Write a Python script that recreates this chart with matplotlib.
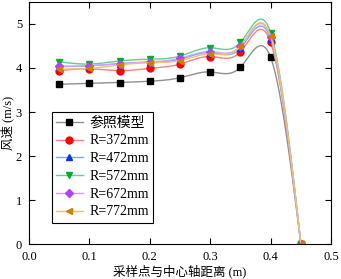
import numpy as np
import matplotlib.pyplot as plt

plt.rcParams['font.family'] = ['Liberation Serif', 'Noto Sans CJK SC']
plt.rcParams['mathtext.fontset'] = 'stix'

# 数据
x = [0.05, 0.1, 0.15, 0.2, 0.25, 0.3, 0.35, 0.4, 0.45]
labels = ['参照模型', 'R=372mm', 'R=472mm', 'R=572mm', 'R=672mm', 'R=772mm']
ref = [3.63, 3.65, 3.67, 3.70, 3.78, 3.91, 4.02, 4.24, 0.0]
r372 = [3.94, 3.98, 3.94, 3.99, 4.09, 4.26, 4.37, 4.58, 0.0]
r472 = [4.03, 4.05, 4.10, 4.13, 4.20, 4.35, 4.45, 4.65, 0.0]
r572 = [4.14, 4.09, 4.16, 4.20, 4.27, 4.46, 4.58, 4.80, 0.0]
r672 = [4.04, 4.05, 4.10, 4.14, 4.22, 4.37, 4.50, 4.70, 0.0]
r772 = [3.98, 3.99, 4.07, 4.12, 4.17, 4.32, 4.50, 4.72, 0.0]
series = [ref, r372, r472, r572, r672, r772]

marker_colors = ['#000000', '#ff0000', '#0033ff', '#00aa33', '#aa44ff', '#cc8000']
line_colors = ['#909090', '#ff8080', '#80a8ff', '#60d090', '#d0a0ff', '#f0c070']
markers = ['s', 'o', '^', 'v', 'D', '<']
msizes = [4.5, 5, 5, 5, 4.2, 5]


# 自然三次样条 (只用于画平滑连线)
def spline(xs, ys, n=400):
    xs = np.asarray(xs, float)
    ys = np.asarray(ys, float)
    m = len(xs)
    h = np.diff(xs)
    A = np.zeros((m, m))
    b = np.zeros(m)
    A[0, 0] = A[-1, -1] = 1
    for i in range(1, m - 1):
        A[i, i - 1] = h[i - 1]
        A[i, i] = 2 * (h[i - 1] + h[i])
        A[i, i + 1] = h[i]
        b[i] = 6 * ((ys[i + 1] - ys[i]) / h[i] - (ys[i] - ys[i - 1]) / h[i - 1])
    M = np.linalg.solve(A, b)
    xx = np.linspace(xs[0], xs[-1], n)
    k = np.clip(np.searchsorted(xs, xx) - 1, 0, m - 2)
    t1 = xs[k + 1] - xx
    t0 = xx - xs[k]
    hk = h[k]
    yy = (M[k] * t1**3 + M[k + 1] * t0**3) / (6 * hk) \
        + (ys[k] / hk - M[k] * hk / 6) * t1 \
        + (ys[k + 1] / hk - M[k + 1] * hk / 6) * t0
    return xx, yy


fig = plt.figure(figsize=(3.41, 2.79), dpi=100)
ax = fig.add_axes([0.085, 0.125, 0.886, 0.868])

for ys, lab, mc, lc, mk, ms in zip(series, labels, marker_colors, line_colors, markers, msizes):
    xx, yy = spline(x, ys)
    ax.plot(xx, yy, color=lc, lw=1.0)
    ax.plot(x, ys, mk, color=mc, ms=ms, mec=mc, ls='none')
    # 图例用的句柄
    ax.plot([], [], color=lc, lw=1.0, marker=mk, mfc=mc, mec=mc, ms=ms, label=lab)

ax.set_xlim(0, 0.5)
ax.set_ylim(0, 5.5)
ax.set_xticks([0.0, 0.1, 0.2, 0.3, 0.4, 0.5])
ax.set_xticklabels(['0.0', '0.1', '0.2', '0.3', '0.4', '0.5'])
ax.set_yticks([0, 1, 2, 3, 4, 5])
ax.tick_params(direction='in', top=True, right=True, labelsize=9, length=4, width=0.8)
ax.tick_params(axis='x', pad=5)
ax.tick_params(axis='y', pad=5)
ax.set_xlabel('采样点与中心轴距离 (m)', fontsize=9, labelpad=1)
ax.set_ylabel('风速 (m/s)', fontsize=9, labelpad=1)

leg = ax.legend(loc='upper left', bbox_to_anchor=(0.076, 0.545), fontsize=10,
                frameon=True, fancybox=False, edgecolor='black', framealpha=1,
                handlelength=1.9, labelspacing=0.34, borderpad=0.3, handletextpad=0.5,
                borderaxespad=0)
leg.get_frame().set_linewidth(0.8)

fig.savefig('out.png', dpi=100)
